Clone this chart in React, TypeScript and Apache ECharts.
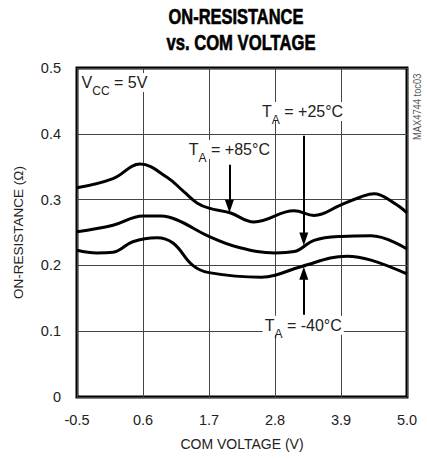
import React, { useEffect, useRef } from "react";
import * as echarts from "echarts";

const xTicks = [-0.5, 0.6, 1.7, 2.8, 3.9, 5.0];
const yTicks = [0, 0.1, 0.2, 0.3, 0.4, 0.5];

const v85 = [-0.5, 0.1, 0.55, 1.0, 1.28, 1.5, 1.7, 2.05, 2.45, 3.12, 3.45, 3.9, 4.23, 4.45, 4.78, 5.0];
const r85 = [0.318, 0.332, 0.354, 0.334, 0.312, 0.295, 0.287, 0.28, 0.266, 0.283, 0.276, 0.292, 0.304, 0.309, 0.295, 0.28];

const v25 = [-0.5, 0.1, 0.6, 0.9, 1.17, 1.7, 2.17, 2.8, 3.12, 3.45, 3.9, 4.4, 5.0];
const r25 = [0.251, 0.261, 0.275, 0.275, 0.269, 0.244, 0.228, 0.219, 0.221, 0.238, 0.244, 0.245, 0.225];

const vM40 = [-0.5, -0.17, 0.1, 0.43, 0.83, 1.1, 1.43, 1.7, 2.57, 2.8, 3.23, 4.0, 4.4, 5.0];
const rM40 = [0.223, 0.219, 0.22, 0.236, 0.242, 0.234, 0.2, 0.189, 0.182, 0.185, 0.198, 0.214, 0.208, 0.187];

const titleLines = ["ON-RESISTANCE", "vs. COM VOLTAGE"];
const xName = "COM VOLTAGE (V)";
const yName = "ON-RESISTANCE (Ω)";
const tocText = "MAX4744 toc03";

// annotation labels: centre [x, y] in data units, and text
const labelTexts = ["{t|V}{s|CC}{t| = 5V}", "{t|T}{s|A}{t| = +85°C}", "{t|T}{s|A}{t| = +25°C}", "{t|T}{s|A}{t| = -40°C}"];
const labelX = [0.125, 2.04, 3.26, 3.27];
const labelY = [0.478, 0.376, 0.434, 0.109];

// arrows: from (x, y0) to (x, y1), data units
const arrowX = [2.04, 3.28, 3.28];
const arrowFrom = [0.353, 0.397, 0.125];
const arrowTo = [0.29, 0.24, 0.188];

const FONT = "'Liberation Sans', Arial, sans-serif";

const zip = (xs: number[], ys: number[]) => xs.map((x, i) => [x, ys[i]]);

export default function App() {
  const ref = useRef<HTMLDivElement>(null);
  useEffect(() => {
    if (!ref.current) return;
    const chart = echarts.init(ref.current, undefined, { renderer: "svg" });
    const lineStyle = { color: "#000", width: 3 };
    const rich = {
      t: { fontSize: 16, lineHeight: 19, color: "#222", fontFamily: FONT },
      s: { fontSize: 12, lineHeight: 12, color: "#222", fontFamily: FONT, verticalAlign: "top", padding: [12, 0, 0, 0] },
    };
    const titleStyle = (text: string) => ({
      text,
      fontFamily: FONT,
      fontWeight: "bold",
      fontSize: 21.5,
      fill: "#000",
      stroke: "#000",
      lineWidth: 0.6,
      textAlign: "center",
      textVerticalAlign: "middle",
    });
    chart.setOption({
      animation: false,
      textStyle: { fontFamily: FONT },
      grid: { left: 77, right: 20, top: 68, bottom: 63, show: true, borderColor: "#000", borderWidth: 3, backgroundColor: "#fff" },
      xAxis: {
        type: "value",
        min: xTicks[0],
        max: xTicks[xTicks.length - 1],
        interval: 1.1,
        name: xName,
        nameLocation: "middle",
        nameGap: 40,
        nameTextStyle: { fontSize: 14, color: "#222", fontFamily: FONT },
        axisLine: { show: false },
        axisTick: { show: false },
        axisLabel: { fontSize: 14.5, color: "#222", margin: 15, formatter: (v: number) => v.toFixed(1) },
        splitLine: { show: true, lineStyle: { color: "#444", width: 1 } },
      },
      yAxis: {
        type: "value",
        min: yTicks[0],
        max: yTicks[yTicks.length - 1],
        interval: 0.1,
        name: yName,
        nameLocation: "middle",
        nameGap: 52,
        nameTextStyle: { fontSize: 13.5, color: "#222", fontFamily: FONT },
        axisLine: { show: false },
        axisTick: { show: false },
        axisLabel: { fontSize: 14.5, color: "#222", margin: 16, formatter: (v: number) => (v === 0 ? "0" : v.toFixed(1)) },
        splitLine: { show: true, lineStyle: { color: "#444", width: 1 } },
      },
      series: [
        { type: "line", data: zip(v85, r85), smooth: 0.4, symbol: "none", lineStyle, z: 3 },
        { type: "line", data: zip(v25, r25), smooth: 0.4, symbol: "none", lineStyle, z: 3 },
        { type: "line", data: zip(vM40, rM40), smooth: 0.4, symbol: "none", lineStyle, z: 3 },
        {
          type: "line",
          data: [],
          z: 5,
          markLine: {
            silent: true,
            symbol: ["none", "triangle"],
            symbolSize: [9, 13],
            label: { show: false },
            lineStyle: { color: "#000", width: 2, type: "solid" },
            data: arrowX.map((x, i) => [{ coord: [x, arrowFrom[i]] }, { coord: [x, arrowTo[i]] }]),
          },
          markPoint: {
            silent: true,
            symbol: "circle",
            symbolSize: 0,
            data: labelTexts.map((t, i) => ({
              coord: [labelX[i], labelY[i]],
              label: {
                show: true,
                position: "inside",
                formatter: t,
                backgroundColor: "#fff",
                padding: [0, 2, 0, 2],
                rich,
              },
            })),
          },
        },
      ],
      graphic: [
        { type: "text", x: 236, y: 17, scaleX: 0.765, style: titleStyle(titleLines[0]) },
        { type: "text", x: 241, y: 42.5, scaleX: 0.775, style: titleStyle(titleLines[1]) },
        {
          type: "text",
          x: 412,
          y: 140,
          rotation: Math.PI / 2,
          scaleX: 0.85,
          style: { text: tocText, fontSize: 11, fill: "#555", fontFamily: FONT },
        },
      ],
    });
    return () => chart.dispose();
  }, []);
  return <div ref={ref} style={{ position: "absolute", left: 0, top: 0, width: 427, height: 460 }} />;
}
